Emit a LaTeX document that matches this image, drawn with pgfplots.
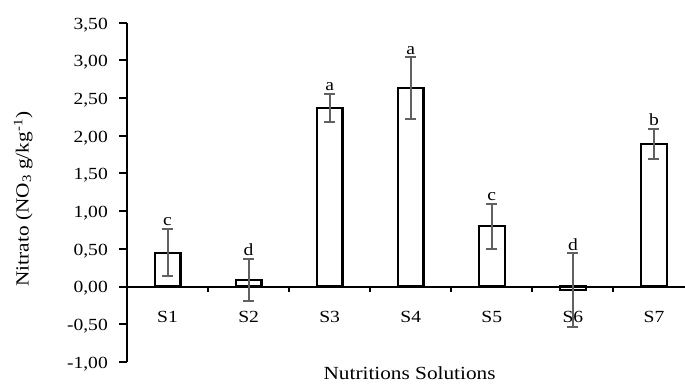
\documentclass[border=0pt]{standalone}
\usepackage{fontspec}
\setmainfont{Liberation Serif}[FakeStretch=1.15]
\usepackage{pgfplots}
\pgfplotsset{compat=1.18}
\begin{document}
\begin{tikzpicture}
\useasboundingbox (0,0) rectangle (685pt,383pt);
\begin{axis}[
  at={(127pt,21pt)}, anchor=south west,
  width=567.5pt, height=339.3pt, scale only axis,
  xmin=-0.5, xmax=6.5, ymin=-1, ymax=3.5,
  clip=false,
  axis x line=middle, axis y line=left,
  axis line style={-, line width=2pt, black},
  ytick={-1,-0.5,0,0.5,1,1.5,2,2.5,3,3.5},
  yticklabel style={font=\fontsize{17}{19}\selectfont, anchor=east, inner sep=0pt, yshift=-2pt, xshift=-11pt,
    /pgf/number format/fixed, /pgf/number format/fixed zerofill, /pgf/number format/precision=2,
    /pgf/number format/use comma, /pgf/number format/assume math mode=true},
  xtick={0,1,2,3,4,5,6},
  xticklabels={S1,S2,S3,S4,S5,S6,S7},
  xticklabel style={font=\fontsize{17}{19}\selectfont, anchor=base, inner sep=0pt, yshift=-28pt},
  minor xtick={0.5,1.5,2.5,3.5,4.5,5.5},
  tick align=outside,
  major tick length=8pt, minor tick length=5pt,
  tick style={line width=2pt, black},
  every major x tick/.append style={draw=none},
  xlabel={Nutritions Solutions},
  xlabel style={font=\fontsize{18.5}{20}\selectfont, at={(axis description cs:0.498,0)}, anchor=base, inner sep=0pt, yshift=-17pt},
  ylabel={Nitrato (NO\textsubscript{3} g/kg\textsuperscript{-1})},
  ylabel style={font=\fontsize{18.5}{20}\selectfont, at={(axis description cs:-0.183,0.48)}, anchor=center, inner sep=0pt},
]
\addplot[ybar, bar width=25.7pt, fill=white, draw=black, line width=2.3pt,
  error bars/.cd, y dir=both, y explicit,
  error bar style={line width=2pt, black!62},
  error mark options={rotate=90, mark size=5.5pt, line width=2pt, black!62}]
coordinates {
  (0,0.45)   +- (0,0.316)
  (1,0.09)   +- (0,0.275)
  (2,2.37)   +- (0,0.185)
  (3,2.63)   +- (0,0.41)
  (4,0.80)   +- (0,0.30)
  (5,-0.045) +- (0,0.485)
  (6,1.89)   +- (0,0.20)
};
\addplot[draw=none, mark=none, nodes near coords, point meta=explicit symbolic,
  every node near coord/.append style={font=\fontsize{17}{19}\selectfont, inner sep=0pt, anchor=south, yshift=3pt}]
coordinates {
  (0,0.766)[c]
  (1,0.365)[d]
  (2,2.555)[a]
  (3,3.04)[a]
  (4,1.10)[c]
  (5,0.44)[d]
  (6,2.09)[b]
};
\end{axis}
\end{tikzpicture}
\end{document}
